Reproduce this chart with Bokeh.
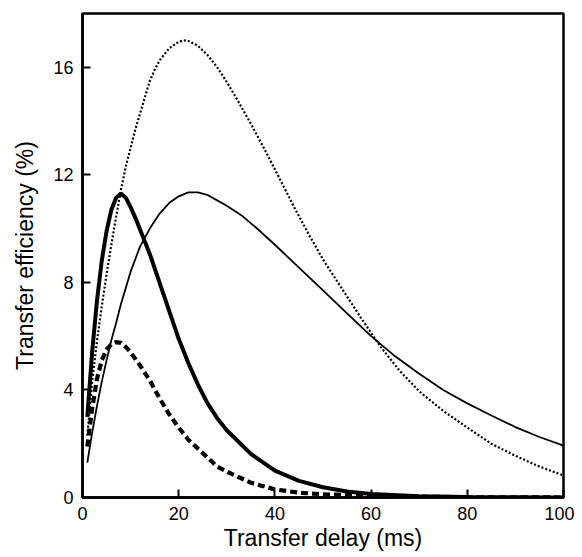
from bokeh.plotting import figure
from bokeh.models import Range1d, FixedTicker
from bokeh.embed import file_html
from bokeh.resources import INLINE

# --- data (transfer delay in ms, efficiency in %) ---
dotted_x = [1, 2, 3, 4, 5, 6, 7, 8, 9, 10, 11, 12, 13, 14, 15, 16, 18, 20, 21, 22, 24, 26, 28, 30,
            32, 35, 38, 41, 44, 47, 50, 54, 58, 62, 66, 70, 75, 80, 85, 90, 95, 100]
dotted_y = [2.3, 4.3, 5.8, 7.1, 8.3, 9.4, 10.45, 11.45, 12.3, 13.0, 13.7, 14.3, 14.9, 15.5, 15.9,
            16.25, 16.7, 16.95, 17.0, 16.98, 16.8, 16.45, 16.0, 15.45, 14.85, 13.9, 12.9, 11.85,
            10.8, 9.8, 8.85, 7.75, 6.65, 5.6, 4.7, 3.95, 3.22, 2.6, 2.0, 1.55, 1.15, 0.82]

thin_x = [1, 2, 3, 4, 5, 6, 7, 8, 10, 12, 14, 16, 18, 20, 22, 24, 26, 28, 30, 33, 36, 40, 45,
          50, 55, 60, 65, 70, 75, 80, 85, 90, 95, 100]
thin_y = [1.3, 2.4, 3.4, 4.3, 5.1, 5.85, 6.5, 7.2, 8.4, 9.35, 10.0, 10.55, 10.95, 11.2, 11.35,
          11.35, 11.25, 11.05, 10.85, 10.5, 10.05, 9.4, 8.55, 7.7, 6.85, 6.0, 5.25, 4.6, 4.0,
          3.5, 3.05, 2.62, 2.25, 1.93]

thick_x = [1, 2, 3, 4, 5, 6, 7, 8, 9, 10, 11, 12, 13, 14, 16, 18, 20, 22, 24, 26, 28, 30, 35,
           40, 45, 50, 55, 60, 70, 80, 90, 100]
thick_y = [3.0, 5.4, 7.3, 8.8, 9.9, 10.7, 11.15, 11.3, 11.15, 10.8, 10.4, 9.95, 9.5, 9.05, 8.0,
           6.95, 5.9, 5.0, 4.2, 3.5, 2.95, 2.5, 1.62, 1.0, 0.62, 0.38, 0.22, 0.13, 0.05, 0.02,
           0.01, 0.0]

dashed_x = [1, 2, 3, 4, 5, 6, 7, 8, 9, 10, 12, 14, 16, 18, 20, 22, 25, 28, 31, 35, 37, 40, 45,
            50, 60, 70, 80, 100]
dashed_y = [1.9, 3.3, 4.4, 5.1, 5.5, 5.7, 5.78, 5.75, 5.6, 5.4, 4.9, 4.35, 3.7, 3.1, 2.6, 2.15,
            1.65, 1.15, 0.88, 0.55, 0.45, 0.3, 0.18, 0.12, 0.06, 0.03, 0.01, 0.0]

x_ticks = [0, 20, 40, 60, 80, 100]
y_ticks = [0, 4, 8, 12, 16]

FONT = "Liberation Sans"

p = figure(width=574, height=557, output_backend="svg", toolbar_location=None,
           x_range=Range1d(0, 100), y_range=Range1d(0, 18),
           min_border_left=82, min_border_right=11, min_border_top=13, min_border_bottom=60)

p.line(dotted_x, dotted_y, line_color="black", line_width=2.2, line_dash="2 2")
p.line(thin_x, thin_y, line_color="black", line_width=1.8)
p.line(thick_x, thick_y, line_color="black", line_width=4)
p.line(dashed_x, dashed_y, line_color="black", line_width=4.2, line_dash="7 4")

p.xgrid.visible = False
p.ygrid.visible = False
p.outline_line_color = "black"
p.outline_line_width = 2.5
p.background_fill_color = "white"
p.border_fill_color = "white"

for ax, ticks in ((p.xaxis[0], x_ticks), (p.yaxis[0], y_ticks)):
    ax.ticker = FixedTicker(ticks=ticks)
    ax.major_tick_in = 8
    ax.major_tick_out = 0
    ax.minor_tick_in = 0
    ax.minor_tick_out = 0
    ax.major_tick_line_width = 2
    ax.axis_line_width = 2.5
    ax.major_label_text_font = FONT
    ax.major_label_text_font_size = "18px"
    ax.major_label_text_color = "black"
    ax.axis_label_text_font = FONT
    ax.axis_label_text_font_size = "23px"
    ax.axis_label_text_font_style = "normal"
    ax.axis_label_text_color = "black"

p.xaxis.axis_label = "Transfer delay (ms)"
p.yaxis.axis_label = "Transfer efficiency (%)"
p.xaxis.major_label_standoff = 9
p.yaxis.major_label_standoff = 9
p.xaxis.axis_label_standoff = 2
p.yaxis.axis_label_standoff = 12

open("out.html", "w").write(file_html(p, INLINE))
